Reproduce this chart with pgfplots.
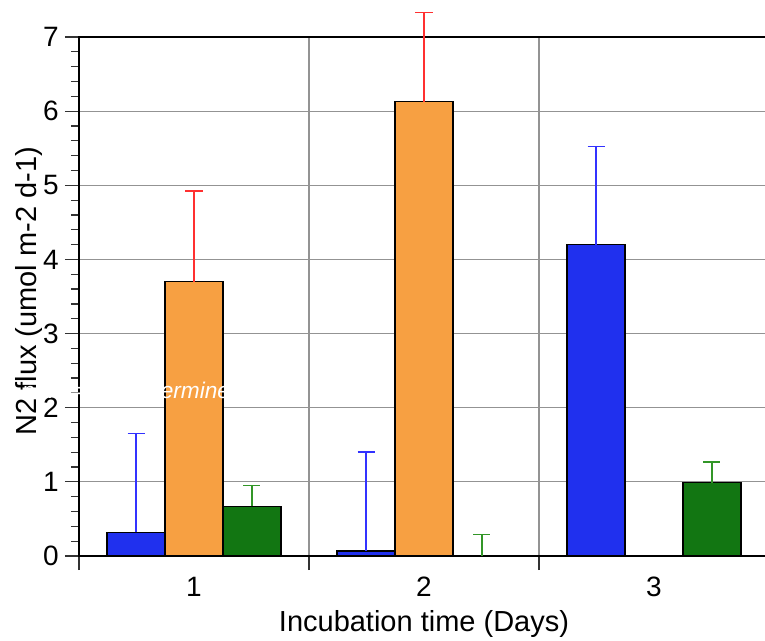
\documentclass[border=0pt]{standalone}
\usepackage{pgfplots}
\pgfplotsset{compat=1.18}
\usepackage{fontspec}
\setmainfont{Liberation Sans}
\definecolor{barblue}{RGB}{32,48,238}
\definecolor{barorange}{RGB}{247,160,66}
\definecolor{bargreen}{RGB}{18,118,18}
\definecolor{errblue}{RGB}{50,50,255}
\definecolor{errred}{RGB}{255,48,48}
\definecolor{errgreen}{RGB}{50,150,40}
\begin{document}
\begin{tikzpicture}
\begin{axis}[
  scale only axis, width=517.5pt, height=389.25pt,
  xmin=0.5, xmax=3.5, ymin=0, ymax=7,
  clip=false,
  ybar=0pt, bar width=0.252,
  /pgf/number format/assume math mode=true,
  axis line style={line width=1.5pt, black},
  tick align=outside,
  xtick={0.5,1.5,2.5}, xticklabels={},
  xtick pos=bottom, ytick pos=left,
  xmajorgrids, ymajorgrids,
  major grid style={gray!85, line width=0.9pt},
  extra x ticks={1,2,3}, extra x tick labels={1,2,3},
  extra x tick style={major tick length=0pt, grid=none,
     xticklabel style={inner sep=0pt, yshift=-15.75pt}},
  ytick={0,1,2,3,4,5,6,7},
  minor y tick num=4,
  major tick length=10.5pt, minor tick length=6pt,
  every tick/.style={black!80, line width=0.9pt},
  tick label style={font=\fontsize{21}{24}\selectfont},
  yticklabel style={inner sep=0pt, xshift=-4.5pt},
  xlabel={Incubation time (Days)},
  ylabel={N2 flux (umol m-2 d-1)},
  label style={font=\fontsize{21.75}{25}\selectfont},
  xlabel style={at={(axis description cs:0.5,0)}, anchor=north, inner sep=0pt, yshift=-40.5pt},
  ylabel style={at={(axis description cs:0,0.51)}, anchor=center, inner sep=0pt, yshift=37.5pt},
  every axis plot/.append style={draw=black, line width=1.1pt},
]
\addplot[fill=barblue,
  error bars/.cd, y dir=plus, y explicit,
  error bar style={line width=1.1pt, errblue},
  error mark options={rotate=90, line width=1.1pt, errblue, mark size=6.4pt}]
  coordinates {(1,0.32) +- (0,1.33) (2,0.07) +- (0,1.33) (3,4.20) +- (0,1.32)};
\addplot[fill=barorange,
  error bars/.cd, y dir=plus, y explicit,
  error bar style={line width=1.1pt, errred},
  error mark options={rotate=90, line width=1.1pt, errred, mark size=6.4pt}]
  coordinates {(1,3.70) +- (0,1.22) (2,6.13) +- (0,1.20)};
\addplot[fill=bargreen,
  error bars/.cd, y dir=plus, y explicit,
  error bar style={line width=1.1pt, errgreen},
  error mark options={rotate=90, line width=1.1pt, errgreen, mark size=6.4pt}]
  coordinates {(1,0.67) +- (0,0.28) (2,0.0) +- (0,0.29) (3,0.99) +- (0,0.28)};
\coordinate (nd) at (axis cs:1.213,2.13);
\end{axis}
\node[anchor=base east, inner sep=0pt, text=white, font=\fontsize{17}{20}\selectfont\itshape] at (nd) {n.d. = Not determined};
\pgfresetboundingbox
\useasboundingbox (-59.25pt,-63pt) rectangle (514.5pt,417pt);
\end{tikzpicture}
\end{document}
